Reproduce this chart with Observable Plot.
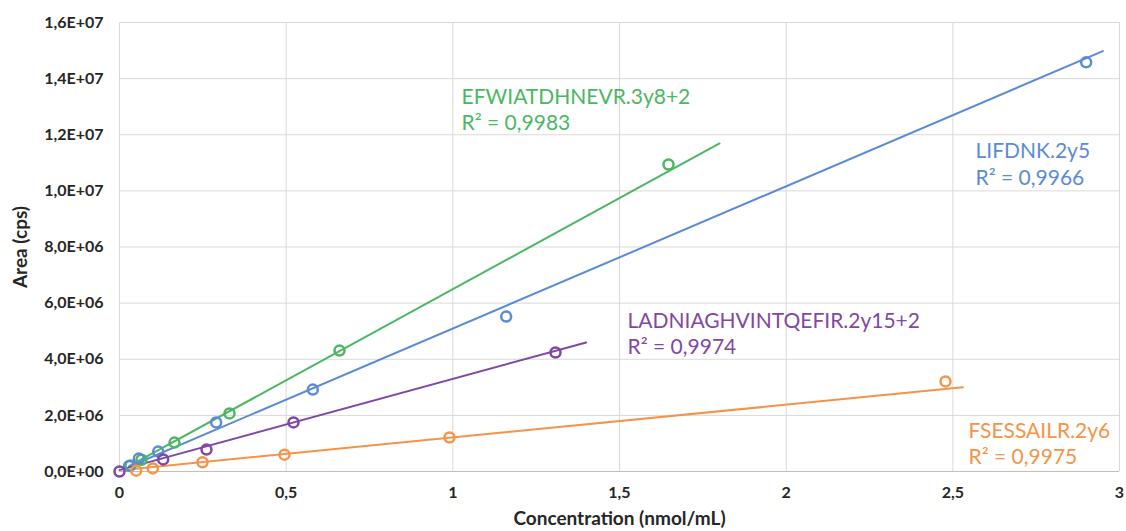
<!DOCTYPE html>
<html>
<head>
<meta charset="utf-8">
<script src="https://cdn.jsdelivr.net/npm/d3@7"></script>
<script src="https://cdn.jsdelivr.net/npm/@observablehq/plot@0.6"></script>
<style>
  html, body { margin: 0; padding: 0; background: #fff; }
  #chart svg [aria-label$="tick label"], #chart svg [aria-label$="tick label"] text { font-weight: bold; font-size: 16px; }
  #chart svg [aria-label$="axis label"], #chart svg [aria-label$="axis label"] text { font-weight: bold; font-size: 19px; }
</style>
</head>
<body>
<div id="chart"></div>
<script>
// ---- data ----
const seriesNames = ["EFWIATDHNEVR.3y8+2", "LIFDNK.2y5", "LADNIAGHVINTQEFIR.2y15+2", "FSESSAILR.2y6"];
const rSquared = ["0,9983", "0,9966", "0,9974", "0,9975"];

const greenConc = [0.033, 0.066, 0.165, 0.33, 0.66, 1.647];
const greenArea = [0.21e6, 0.42e6, 1.03e6, 2.07e6, 4.31e6, 10.94e6];

const blueConc = [0.029, 0.058, 0.116, 0.29, 0.58, 1.16, 2.9];
const blueArea = [0.2e6, 0.46e6, 0.71e6, 1.75e6, 2.92e6, 5.52e6, 14.58e6];

const purpleConc = [0, 0.131, 0.261, 0.522, 1.308];
const purpleArea = [0, 0.43e6, 0.78e6, 1.75e6, 4.24e6];

const orangeConc = [0.05, 0.1, 0.249, 0.495, 0.99, 2.478];
const orangeArea = [0.03e6, 0.11e6, 0.33e6, 0.6e6, 1.21e6, 3.21e6];

// trend line end points
const trendStartConc = [0.03, 0.028, 0, 0.048];
const trendStartArea = [0.2e6, 0.17e6, 0.05e6, 0.1e6];
const trendEndConc = [1.8, 2.95, 1.4, 2.53];
const trendEndArea = [11.69e6, 14.98e6, 4.6e6, 3.0e6];

const xTicks = [0, 0.5, 1, 1.5, 2, 2.5, 3];
const yTicks = [0, 2e6, 4e6, 6e6, 8e6, 10e6, 12e6, 14e6, 16e6];

// ---- layout / style ----
const colors = ["#4bb663", "#5b8bd5", "#7f47a6", "#f59448"];
const labelPos = [
  {x: 1.026, y: 13.76e6},
  {x: 2.568, y: 11.82e6},
  {x: 1.524, y: 5.78e6},
  {x: 2.547, y: 1.86e6}
];

// ---- tables ----
const concs = [greenConc, blueConc, purpleConc, orangeConc];
const areas = [greenArea, blueArea, purpleArea, orangeArea];
const points = [];
concs.forEach((c, i) => c.forEach((v, j) => points.push({series: seriesNames[i], conc: v, area: areas[i][j]})));
const trends = [];
seriesNames.forEach((s, i) => {
  trends.push({series: s, conc: trendStartConc[i], area: trendStartArea[i]});
  trends.push({series: s, conc: trendEndConc[i], area: trendEndArea[i]});
});
const labels = seriesNames.map((s, i) => ({series: s, text: s + "\nR² = " + rSquared[i], x: labelPos[i].x, y: labelPos[i].y}));

const fmtY = v => {
  const [m, e] = v.toExponential(1).split("e");
  const sign = e[0] === "-" ? "-" : "+";
  const num = e.replace(/[+-]/, "").padStart(2, "0");
  return m.replace(".", ",") + "E" + sign + num;
};
const fmtX = v => String(v).replace(".", ",");

const chart = Plot.plot({
  width: 1126,
  height: 531,
  marginLeft: 119,
  marginRight: 7,
  marginTop: 22,
  marginBottom: 60,
  style: {fontFamily: "Lato, 'Open Sans', sans-serif", fontSize: "14px", color: "#262626", background: "#fff"},
  x: {domain: [0, 3]},
  y: {domain: [0, 1.6e7]},
  color: {domain: seriesNames, range: colors},
  marks: [
    Plot.gridX(xTicks, {stroke: "#d9d9d9", strokeOpacity: 1, strokeWidth: 1}),
    Plot.gridY(yTicks, {stroke: "#d9d9d9", strokeOpacity: 1, strokeWidth: 1}),
    Plot.ruleY([0], {stroke: "#bfbfbf", strokeWidth: 1}),
    Plot.axisX(xTicks, {tickSize: 0, tickPadding: 15, tickFormat: fmtX, label: "Concentration (nmol/mL)", labelAnchor: "center", labelArrow: "none", labelOffset: 53}),
    Plot.axisY(yTicks, {tickSize: 0, tickPadding: 16, tickFormat: fmtY, label: "Area (cps)", labelAnchor: "center", labelArrow: "none", labelOffset: 106}),
    Plot.line(trends, {x: "conc", y: "area", z: "series", stroke: "series", strokeWidth: 2}),
    Plot.dot(points, {x: "conc", y: "area", stroke: "series", r: 5, strokeWidth: 2.5, fill: "none"}),
    Plot.text(labels, {x: "x", y: "y", text: "text", fill: "series", textAnchor: "start", lineAnchor: "top", lineHeight: 1.25, fontSize: 21})
  ]
});
document.getElementById("chart").appendChild(chart);
</script>
</body>
</html>
